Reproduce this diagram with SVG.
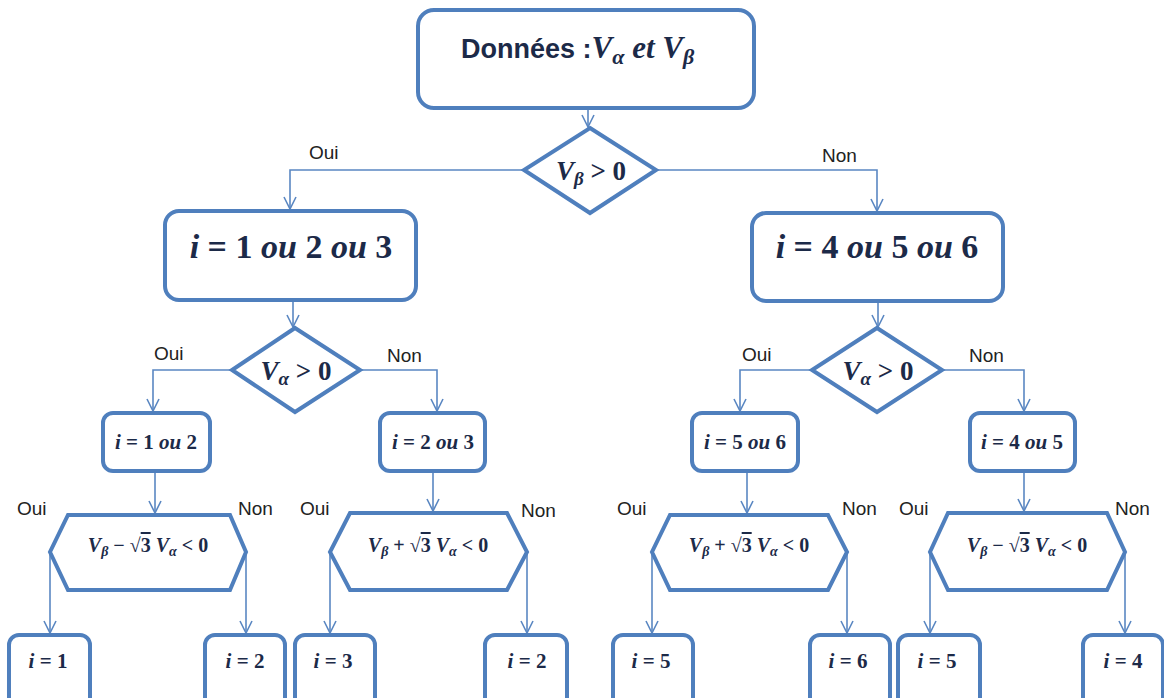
<svg xmlns="http://www.w3.org/2000/svg" width="1164" height="698" viewBox="0 0 1164 698">
  <style>
    .box { fill: #ffffff; stroke: #4f7fbd; stroke-width: 4; }
    .link { fill: none; stroke: #5a87c2; stroke-width: 1.6; }
    .lbl { font-family: "Liberation Sans", "DejaVu Sans", sans-serif; font-size: 19px; fill: #222222; }
    .m { font-family: "Liberation Serif", "DejaVu Serif", serif; font-weight: bold; fill: #1c2a48; text-anchor: middle; }
    .it { font-style: italic; }
    .sub { font-style: italic; }
    .ttl { font-family: "Liberation Sans", "DejaVu Sans", sans-serif; font-weight: bold; fill: #1c2a48; }
  </style>
  <defs>
    <marker id="arr" markerUnits="userSpaceOnUse" markerWidth="14" markerHeight="14" viewBox="0 0 14 14" refX="13" refY="7" orient="auto">
      <path d="M1,1 L13,7 L1,13" fill="none" stroke="#5a87c2" stroke-width="1.6"/>
    </marker>
  </defs>
  <rect width="1164" height="698" fill="#ffffff"/>

  <!-- connectors -->
  <g id="connectors" class="link" marker-end="url(#arr)">
    <path d="M588,110 V127"/>
    <path d="M524,170 H290 V209"/>
    <path d="M656,170 H877 V211"/>
    <path d="M293,302 V327"/>
    <path d="M878,303 V327"/>
    <path d="M232,370 H153 V411"/>
    <path d="M360,370 H437 V411"/>
    <path d="M812,370 H740 V411"/>
    <path d="M942,370 H1024 V411"/>
    <path d="M155,473 V513"/>
    <path d="M433,473 V511"/>
    <path d="M747,473 V513"/>
    <path d="M1024,473 V511"/>
    <path d="M50,552 V633"/>
    <path d="M246,552 V633"/>
    <path d="M330,552 V633"/>
    <path d="M527,552 V633"/>
    <path d="M652,552 V633"/>
    <path d="M847,552 V633"/>
    <path d="M930,552 V633"/>
    <path d="M1125,552 V633"/>
  </g>

  <!-- branch labels -->
  <g id="labels" class="lbl">
    <text x="309" y="159">Oui</text>
    <text x="822" y="162">Non</text>
    <text x="154" y="360">Oui</text>
    <text x="387" y="362">Non</text>
    <text x="742" y="361">Oui</text>
    <text x="969" y="362">Non</text>
    <text x="17" y="515">Oui</text>
    <text x="238" y="515">Non</text>
    <text x="300" y="515">Oui</text>
    <text x="521" y="517">Non</text>
    <text x="617" y="515">Oui</text>
    <text x="842" y="515">Non</text>
    <text x="899" y="515">Oui</text>
    <text x="1115" y="515">Non</text>
  </g>

  <!-- start -->
  <g id="start">
    <rect class="box" x="418" y="10" width="336" height="98" rx="16"/>
    <text x="461" y="58"><tspan class="ttl" style="font-size:27px">Données :</tspan><tspan class="m it" style="font-size:31px;text-anchor:start">V</tspan><tspan class="m sub" style="font-size:22px;text-anchor:start" dy="6">α</tspan><tspan class="m it" style="font-size:31px;text-anchor:start" dy="-6"> et V</tspan><tspan class="m sub" style="font-size:22px;text-anchor:start" dy="6">β</tspan></text>
  </g>

  <!-- decision Vβ > 0 -->
  <g id="dec-vb">
    <polygon class="box" points="590,128 656,170 590,213 524,170"/>
    <text class="m" x="591" y="180" style="font-size:27px"><tspan class="it">V</tspan><tspan class="sub" style="font-size:19px" dy="5">β</tspan><tspan dy="-5"> &gt; 0</tspan></text>
  </g>

  <!-- sector groups -->
  <g id="sect-123">
    <rect class="box" x="165" y="211" width="251" height="89" rx="14"/>
    <text class="m" x="291" y="258" style="font-size:34px"><tspan class="it">i</tspan> = 1 <tspan class="it">ou</tspan> 2 <tspan class="it">ou</tspan> 3</text>
  </g>
  <g id="sect-456">
    <rect class="box" x="752" y="213" width="251" height="88" rx="14"/>
    <text class="m" x="877" y="258" style="font-size:34px"><tspan class="it">i</tspan> = 4 <tspan class="it">ou</tspan> 5 <tspan class="it">ou</tspan> 6</text>
  </g>

  <!-- decisions Vα > 0 -->
  <g id="dec-va-left">
    <polygon class="box" points="295,328 360,370 295,412 232,370"/>
    <text class="m" x="296" y="380" style="font-size:27px"><tspan class="it">V</tspan><tspan class="sub" style="font-size:19px" dy="5">α</tspan><tspan dy="-5"> &gt; 0</tspan></text>
  </g>
  <g id="dec-va-right">
    <polygon class="box" points="877,328 942,370 877,412 812,370"/>
    <text class="m" x="878" y="380" style="font-size:27px"><tspan class="it">V</tspan><tspan class="sub" style="font-size:19px" dy="5">α</tspan><tspan dy="-5"> &gt; 0</tspan></text>
  </g>

  <!-- pairs -->
  <g id="pair-12">
    <rect class="box" x="103" y="413" width="107" height="58" rx="10"/>
    <text class="m" x="156" y="449" style="font-size:21px"><tspan class="it">i</tspan> = 1 <tspan class="it">ou</tspan> 2</text>
  </g>
  <g id="pair-23">
    <rect class="box" x="380" y="413" width="105" height="58" rx="10"/>
    <text class="m" x="433" y="449" style="font-size:21px"><tspan class="it">i</tspan> = 2 <tspan class="it">ou</tspan> 3</text>
  </g>
  <g id="pair-56">
    <rect class="box" x="692" y="413" width="106" height="58" rx="10"/>
    <text class="m" x="745" y="449" style="font-size:21px"><tspan class="it">i</tspan> = 5 <tspan class="it">ou</tspan> 6</text>
  </g>
  <g id="pair-45">
    <rect class="box" x="970" y="413" width="105" height="58" rx="10"/>
    <text class="m" x="1022" y="449" style="font-size:21px"><tspan class="it">i</tspan> = 4 <tspan class="it">ou</tspan> 5</text>
  </g>

  <!-- boundary tests -->
  <g id="test-1">
    <polygon class="box" points="68,515 230,515 246,552 230,590 68,590 50,552"/>
    <text class="m" x="148" y="552" style="font-size:20px"><tspan class="it">V</tspan><tspan class="sub" style="font-size:14px" dy="4">β</tspan><tspan dy="-4"> − √</tspan><tspan style="text-decoration:overline">3</tspan><tspan class="it"> V</tspan><tspan class="sub" style="font-size:14px" dy="4">α</tspan><tspan dy="-4"> &lt; 0</tspan></text>
  </g>
  <g id="test-2">
    <polygon class="box" points="350,513 507,513 527,552 507,590 350,590 330,552"/>
    <text class="m" x="428" y="552" style="font-size:20px"><tspan class="it">V</tspan><tspan class="sub" style="font-size:14px" dy="4">β</tspan><tspan dy="-4"> + √</tspan><tspan style="text-decoration:overline">3</tspan><tspan class="it"> V</tspan><tspan class="sub" style="font-size:14px" dy="4">α</tspan><tspan dy="-4"> &lt; 0</tspan></text>
  </g>
  <g id="test-3">
    <polygon class="box" points="670,515 828,515 847,552 828,590 670,590 652,552"/>
    <text class="m" x="749" y="552" style="font-size:20px"><tspan class="it">V</tspan><tspan class="sub" style="font-size:14px" dy="4">β</tspan><tspan dy="-4"> + √</tspan><tspan style="text-decoration:overline">3</tspan><tspan class="it"> V</tspan><tspan class="sub" style="font-size:14px" dy="4">α</tspan><tspan dy="-4"> &lt; 0</tspan></text>
  </g>
  <g id="test-4">
    <polygon class="box" points="948,513 1107,513 1125,552 1107,590 948,590 930,552"/>
    <text class="m" x="1027" y="552" style="font-size:20px"><tspan class="it">V</tspan><tspan class="sub" style="font-size:14px" dy="4">β</tspan><tspan dy="-4"> − √</tspan><tspan style="text-decoration:overline">3</tspan><tspan class="it"> V</tspan><tspan class="sub" style="font-size:14px" dy="4">α</tspan><tspan dy="-4"> &lt; 0</tspan></text>
  </g>

  <!-- results -->
  <g id="res-1">
    <rect class="box" x="9" y="635" width="81" height="80" rx="10"/>
    <text class="m" x="48" y="668" style="font-size:21px"><tspan class="it">i</tspan> = 1</text>
  </g>
  <g id="res-2a">
    <rect class="box" x="205" y="635" width="80" height="80" rx="10"/>
    <text class="m" x="245" y="668" style="font-size:21px"><tspan class="it">i</tspan> = 2</text>
  </g>
  <g id="res-3">
    <rect class="box" x="295" y="635" width="80" height="80" rx="10"/>
    <text class="m" x="333" y="668" style="font-size:21px"><tspan class="it">i</tspan> = 3</text>
  </g>
  <g id="res-2b">
    <rect class="box" x="485" y="635" width="82" height="80" rx="10"/>
    <text class="m" x="527" y="668" style="font-size:21px"><tspan class="it">i</tspan> = 2</text>
  </g>
  <g id="res-5a">
    <rect class="box" x="613" y="635" width="80" height="80" rx="10"/>
    <text class="m" x="651" y="668" style="font-size:21px"><tspan class="it">i</tspan> = 5</text>
  </g>
  <g id="res-6">
    <rect class="box" x="810" y="635" width="80" height="80" rx="10"/>
    <text class="m" x="848" y="668" style="font-size:21px"><tspan class="it">i</tspan> = 6</text>
  </g>
  <g id="res-5b">
    <rect class="box" x="898" y="635" width="82" height="80" rx="10"/>
    <text class="m" x="937" y="668" style="font-size:21px"><tspan class="it">i</tspan> = 5</text>
  </g>
  <g id="res-4">
    <rect class="box" x="1083" y="635" width="80" height="80" rx="10"/>
    <text class="m" x="1123" y="668" style="font-size:21px"><tspan class="it">i</tspan> = 4</text>
  </g>
</svg>
